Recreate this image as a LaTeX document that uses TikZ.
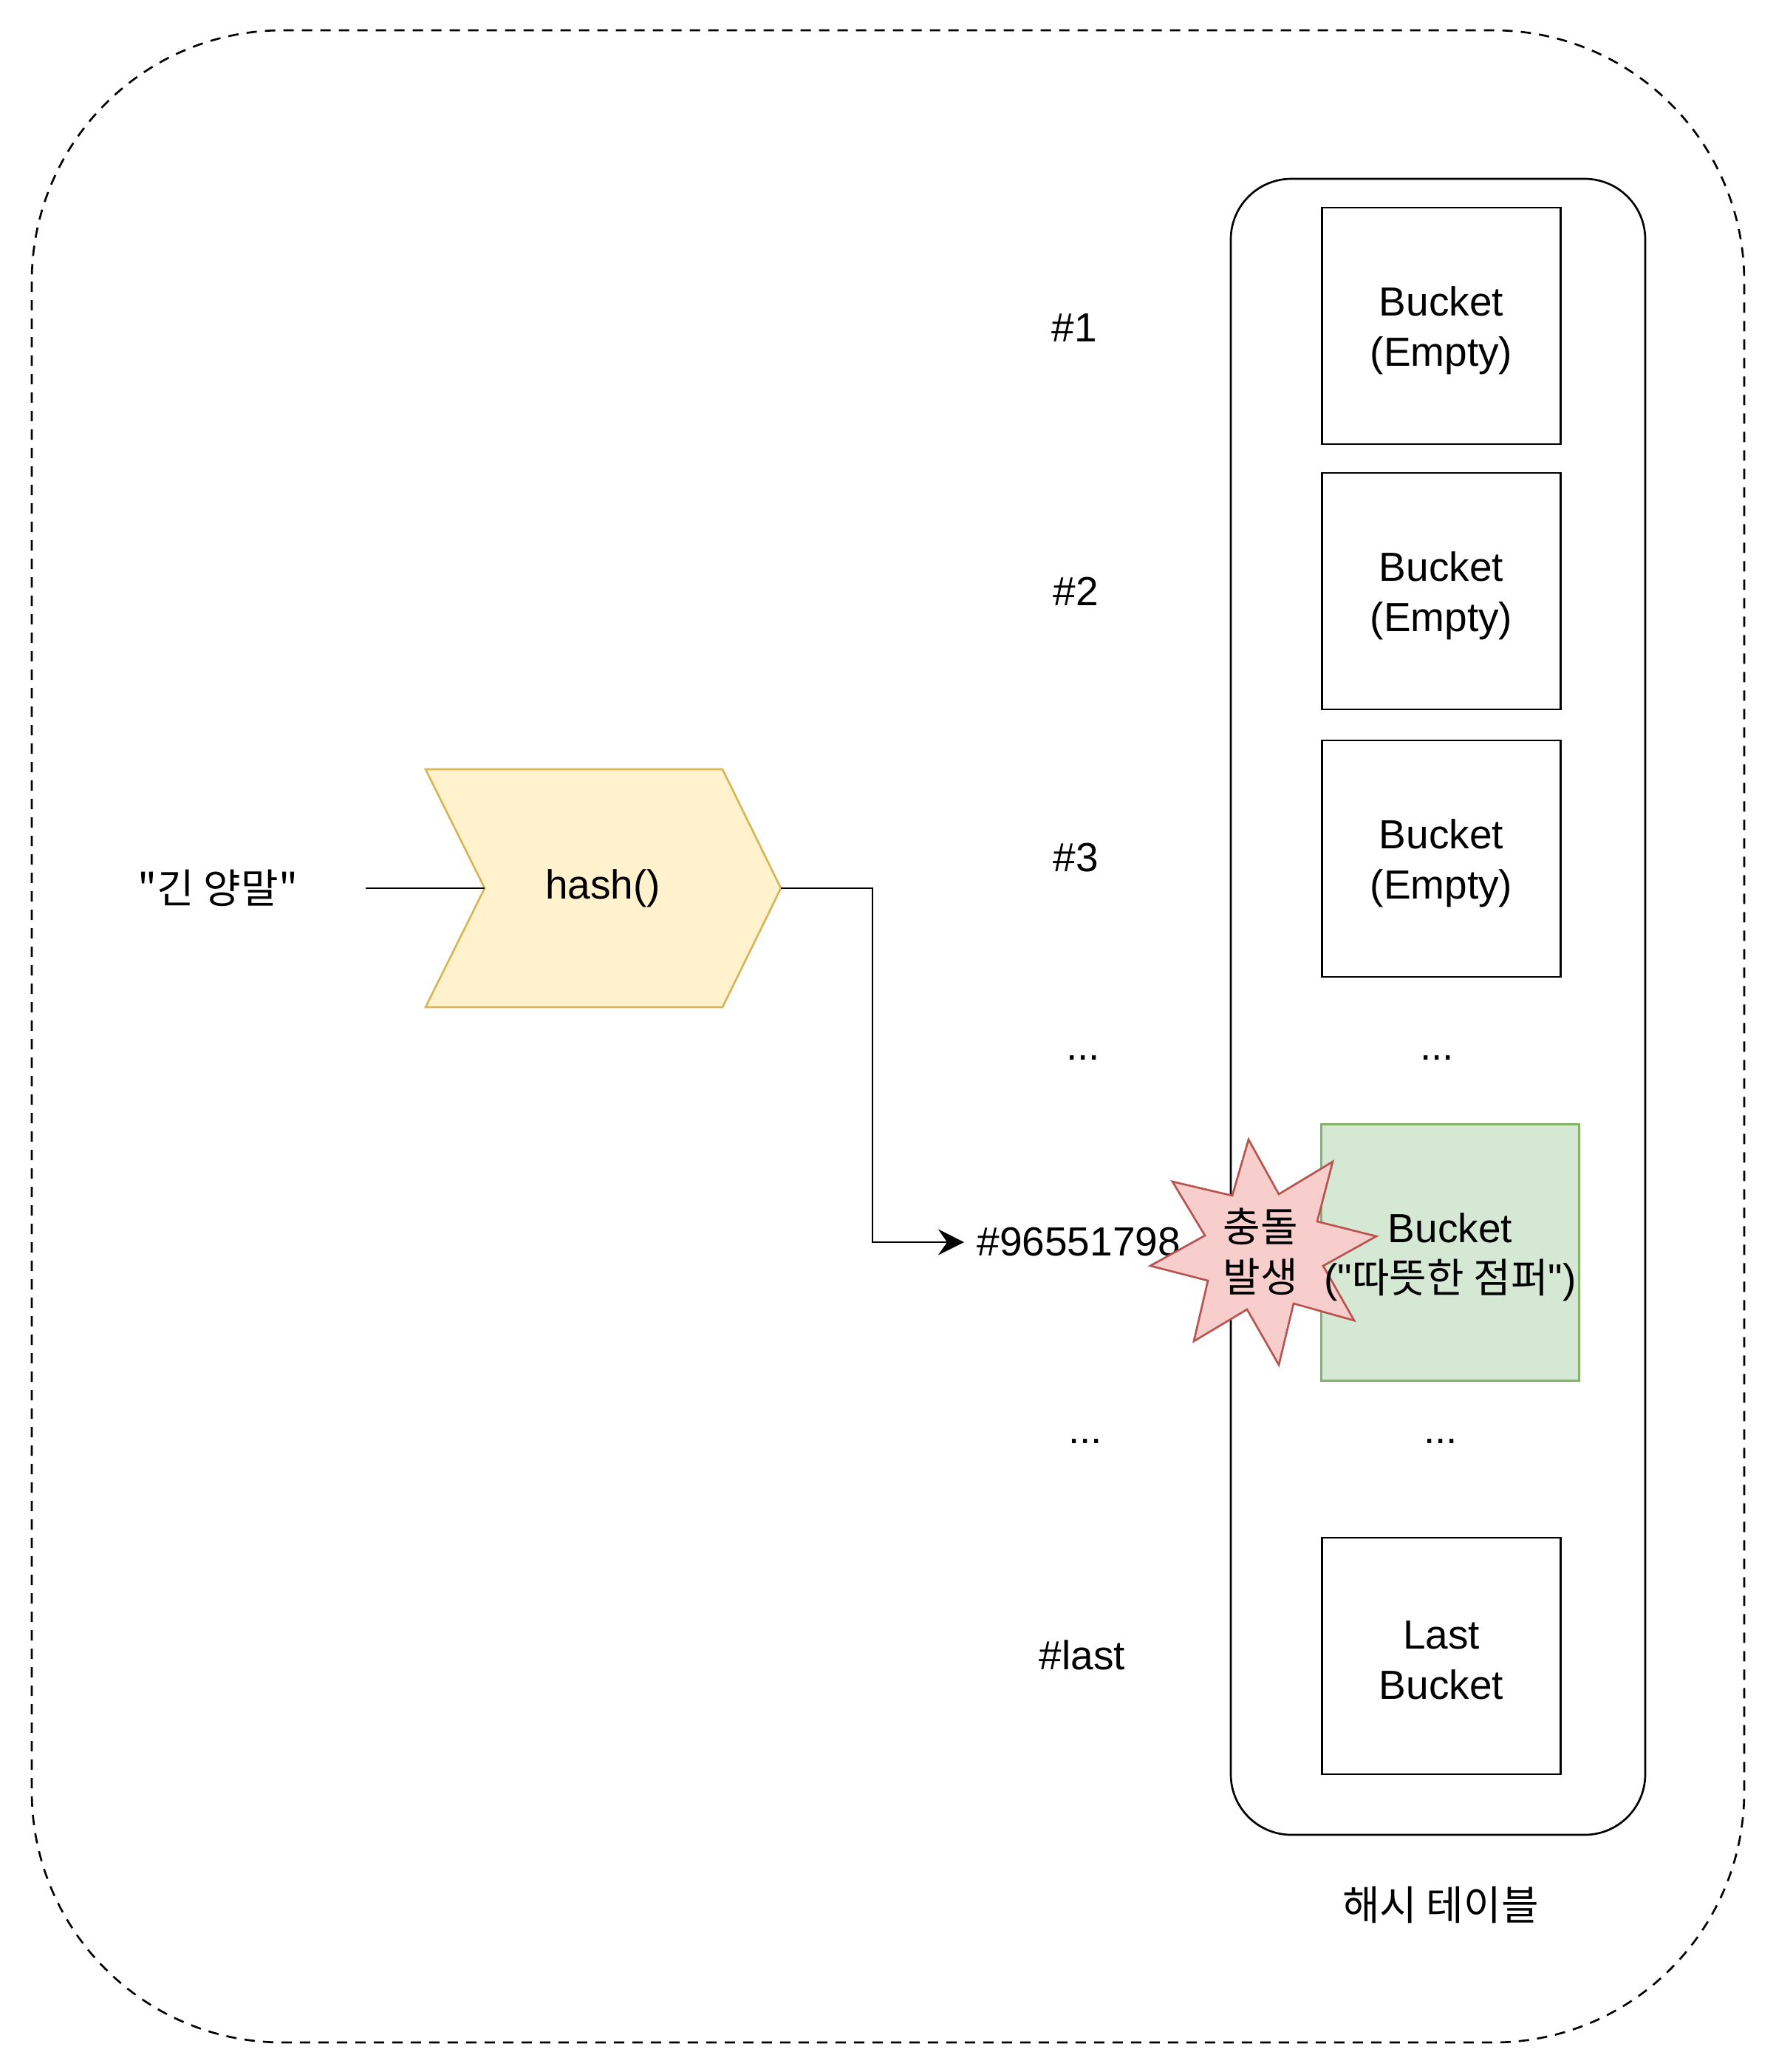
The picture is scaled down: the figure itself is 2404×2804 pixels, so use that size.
\documentclass[tikz,border=0pt]{standalone}
\usepackage{fontspec}
\setmainfont{Liberation Sans}[Ligatures=TeXOff]
\newfontfamily\kr{Noto Sans CJK KR}
\usetikzlibrary{arrows.meta}

\definecolor{hashfill}{HTML}{FFF2CC}
\definecolor{hashline}{HTML}{D6B656}
\definecolor{hitfill}{HTML}{D5E8D4}
\definecolor{hitline}{HTML}{82B366}
\definecolor{crashfill}{HTML}{F8CECC}
\definecolor{crashline}{HTML}{B85450}

\begin{document}
\begin{tikzpicture}[x=0.3pt,y=0.3pt,yscale=-1,xscale=1,
  every node/.style={font=\fontsize{16.5}{20.4}\selectfont},
  wire/.style={line width=0.8pt},
  bucket/.style={draw, line width=0.8pt, minimum width=96.9pt, minimum height=96pt, inner sep=0pt},
  boxtext/.style={align=center, inner sep=0pt, yshift=-1.8pt},
  slotlabel/.style={inner sep=0pt},
  dots/.style={inner sep=0pt, anchor=base}]

\useasboundingbox (0,0) rectangle (2404,2804);

\draw [wire, dash pattern=on 4.2pt off 3.3pt, rounded corners=102pt] (43,41) rectangle (2361,2764) ;

\draw [wire, rounded corners=24.6pt] (1666,242) rectangle (2227,2483) ;


\draw (1951,441) node [bucket] (b1) {};
\draw (b1.center) node [boxtext] (b1text) {Bucket\\(Empty)};

\draw (1951,800) node [bucket] (b2) {};
\draw (b2.center) node [boxtext] (b2text) {Bucket\\(Empty)};

\draw (1951,1162) node [bucket] (b3) {};
\draw (b3.center) node [boxtext] (b3text) {Bucket\\(Empty)};

\draw (1951,2241) node [bucket] (blast) {};
\draw (blast.center) node [boxtext] (blasttext) {Last\\Bucket};

\draw (1963,1695) node [bucket, fill=hitfill, draw=hitline, minimum width=104.7pt, minimum height=104.1pt] (bhit) {};

\draw (1945,1434) node [dots] (tdots1) {...};

\draw (1950,1953) node [dots] (tdots2) {...};

\draw (1950,2578) node (tname) {\kr 해시 테이블};


\draw (1454,444) node [slotlabel] (s1) {\#1};

\draw (1456,800) node [slotlabel] (s2) {\#2};

\draw (1456,1161) node [slotlabel] (s3) {\#3};

\draw (1466,1434) node [dots] (sdots1) {...};

\draw (1469,1953) node [dots] (sdots2) {...};

\draw (1465,2240) node [slotlabel] (slast) {\#last};

\draw (1305,1681) node [anchor=west, inner xsep=5.1pt, inner ysep=0pt] (slot) {\#96551798};


\draw [wire, draw=hashline, fill=hashfill] (576,1041) -- (978,1041) -- (1057,1202) -- (978,1363) -- (576,1363) -- (656,1202) -- cycle ;

\coordinate (hashin) at (656,1202);
\coordinate (hashout) at (1057,1202);
\coordinate (bend) at (1181,1202);

\draw (816,1202) node (hash) {hash()};

\draw (295,1202) node [minimum width=119.4pt, inner sep=0pt] (word) {\kr "긴 양말"};

\draw [wire] (word.east) -- (hashin) ;

\draw [wire, -{Stealth[length=10.5pt, width=10.5pt, inset=3.6pt]}] (hashout) -- (bend) |- (slot.west) ;


\draw [wire, draw=crashline, fill=crashfill] (1690,1542) -- (1731,1616) -- (1804,1572) -- (1783,1653) -- (1863,1673) -- (1791,1713) -- (1833,1787) -- (1751,1764) -- (1731,1847) -- (1688,1772) -- (1616,1815) -- (1635,1733) -- (1557,1713) -- (1631,1672) -- (1587,1599) -- (1668,1618) -- cycle ;

\draw (1706,1694) node [align=center, inner sep=0pt] (crash) {\kr 충돌\\\kr 발생};

\draw (bhit.center) node [boxtext] (hittext) {Bucket\\("{\kr 따뜻한 점퍼}")};


\end{tikzpicture}
\end{document}
